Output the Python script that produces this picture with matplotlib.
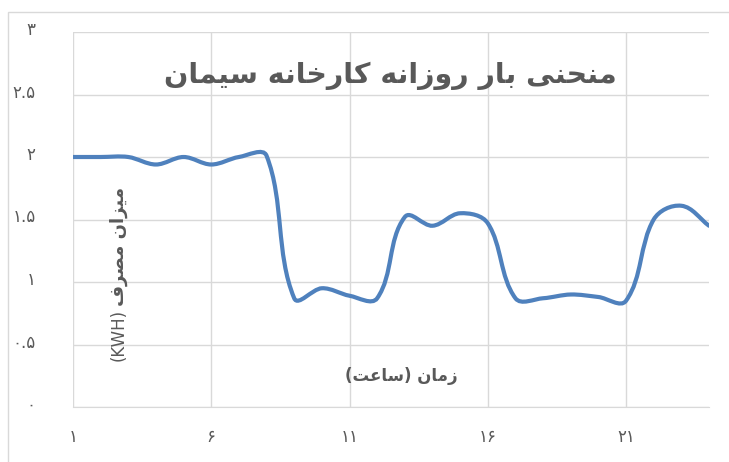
import re
import numpy as np
import matplotlib
matplotlib.use('Agg')
import matplotlib.pyplot as plt
import matplotlib.transforms as mtransforms
from matplotlib.path import Path
from matplotlib.patches import PathPatch, Rectangle
from matplotlib.ticker import FuncFormatter

# hourly load of the cement plant (KWH)
hours = list(range(1, 25))
load = [2.00, 2.00, 2.00, 1.94, 2.00, 1.94, 2.00, 2.01, 0.87, 0.95, 0.89, 0.87,
        1.52, 1.45, 1.55, 1.47, 0.87, 0.87, 0.90, 0.88, 0.85, 1.50, 1.61, 1.45]
x_ticks = [1, 6, 11, 16, 21]
y_ticks = [0, 0.5, 1, 1.5, 2, 2.5, 3]

title = 'منحنی بار روزانه کارخانه سیمان'
ylabel_fa = 'میزان مصرف'
ylabel_unit = '(KWH)'
xlabel = 'زمان (ساعت)'

GRID = '#d9d9d9'
TEXT = '#595959'
LINE = '#4f81bd'

# arabic presentation forms: isolated, final, initial, medial
FORMS = {
    'ا': ('\uFE8D', '\uFE8E', None, None),
    'ب': ('\uFE8F', '\uFE90', '\uFE91', '\uFE92'),
    'ت': ('\uFE95', '\uFE96', '\uFE97', '\uFE98'),
    'ح': ('\uFEA1', '\uFEA2', '\uFEA3', '\uFEA4'),
    'خ': ('\uFEA5', '\uFEA6', '\uFEA7', '\uFEA8'),
    'ر': ('\uFEAD', '\uFEAE', None, None),
    'ز': ('\uFEAF', '\uFEB0', None, None),
    'س': ('\uFEB1', '\uFEB2', '\uFEB3', '\uFEB4'),
    'ص': ('\uFEB9', '\uFEBA', '\uFEBB', '\uFEBC'),
    'ع': ('\uFEC9', '\uFECA', '\uFECB', '\uFECC'),
    'ف': ('\uFED1', '\uFED2', '\uFED3', '\uFED4'),
    'م': ('\uFEE1', '\uFEE2', '\uFEE3', '\uFEE4'),
    'ن': ('\uFEE5', '\uFEE6', '\uFEE7', '\uFEE8'),
    'ه': ('\uFEE9', '\uFEEA', '\uFEEB', '\uFEEC'),
    'و': ('\uFEED', '\uFEEE', None, None),
    'ک': ('\uFB8E', '\uFB8F', '\uFB90', '\uFB91'),
    'ی': ('\uFBFC', '\uFBFD', '\uFBFE', '\uFBFF'),
}


def fa(text):
    """shape persian text and put it in visual (left to right) order"""
    out = []
    for i, ch in enumerate(text):
        if ch not in FORMS:
            out.append(ch)
            continue
        prev = text[i - 1] if i > 0 else ''
        nxt = text[i + 1] if i + 1 < len(text) else ''
        iso, fin, ini, med = FORMS[ch]
        join_prev = prev in FORMS and FORMS[prev][2] is not None
        join_next = ini is not None and nxt in FORMS
        if join_prev and join_next:
            out.append(med)
        elif join_prev:
            out.append(fin)
        elif join_next:
            out.append(ini)
        else:
            out.append(iso)
    s = ''.join(reversed(out)).translate(str.maketrans('()', ')('))
    return re.sub(r'[A-Za-z]+', lambda m: m.group(0)[::-1], s)


def fa_num(v, pos=None):
    return f'{v:g}'.translate(str.maketrans('0123456789', '۰۱۲۳۴۵۶۷۸۹'))


def smooth_path(ax, xs, ys):
    # excel style smoothed line, control points worked out in screen space
    pts = ax.transData.transform(np.column_stack([xs, ys]))
    n = len(pts)
    tang = []
    for i in range(n):
        d = pts[min(i + 1, n - 1)] - pts[max(i - 1, 0)]
        tang.append(d / np.hypot(*d))
    verts = [pts[0]]
    codes = [Path.MOVETO]
    for i in range(n - 1):
        seg = np.hypot(*(pts[i + 1] - pts[i])) / 3
        verts += [pts[i] + tang[i] * seg, pts[i + 1] - tang[i + 1] * seg, pts[i + 1]]
        codes += [Path.CURVE4] * 3
    verts = ax.transData.inverted().transform(np.array(verts))
    return Path(verts, codes)


plt.rcParams['font.family'] = ['DejaVu Sans']

fig = plt.figure(figsize=(7.29, 4.62), dpi=100)
fig.patches.append(Rectangle((8 / 729, -0.01), 1.0, 1 - 12 / 462 + 0.01,
                             transform=fig.transFigure, fill=False,
                             edgecolor=GRID, linewidth=1))
ax = fig.add_axes([73 / 729, 1 - 407 / 462, 636 / 729, 375 / 462])
ax.set_xlim(1, 24)
ax.set_ylim(0, 3)

ax.add_patch(PathPatch(smooth_path(ax, hours, load), fill=False,
                       edgecolor=LINE, linewidth=3, capstyle='round', zorder=3))

ax.set_xticks(x_ticks)
ax.set_yticks(y_ticks)
ax.xaxis.set_major_formatter(FuncFormatter(fa_num))
ax.yaxis.set_major_formatter(FuncFormatter(fa_num))
ax.tick_params(axis='both', length=0, labelsize=12, labelcolor=TEXT)
ax.tick_params(axis='x', pad=15)
ax.tick_params(axis='y', pad=27)
shift_up = mtransforms.ScaledTranslation(0, 4 / 100, fig.dpi_scale_trans)
for lbl in ax.get_yticklabels():
    lbl.set_transform(lbl.get_transform() + shift_up)
ax.grid(True, color=GRID, linewidth=1)
ax.set_axisbelow(True)
for side in ['left', 'right', 'top']:
    ax.spines[side].set_visible(False)
ax.spines['bottom'].set_color(GRID)

fig.text(390 / 729, 1 - 76 / 462, fa(title), ha='center', va='center',
         fontsize=20.5, fontweight='bold', color=TEXT)
fig.text(119 / 729, 1 - 246 / 462, fa(ylabel_fa), ha='center', va='center',
         rotation=90, fontsize=13, fontweight='bold', color=TEXT)
fig.text(119 / 729, 1 - 335 / 462, ylabel_unit, ha='center', va='center',
         rotation=90, fontsize=12, color=TEXT)
fig.text(401 / 729, 1 - 376 / 462, fa(xlabel), ha='center', va='center',
         fontsize=12, fontweight='bold', color=TEXT)

fig.savefig('out.png', dpi=100)
